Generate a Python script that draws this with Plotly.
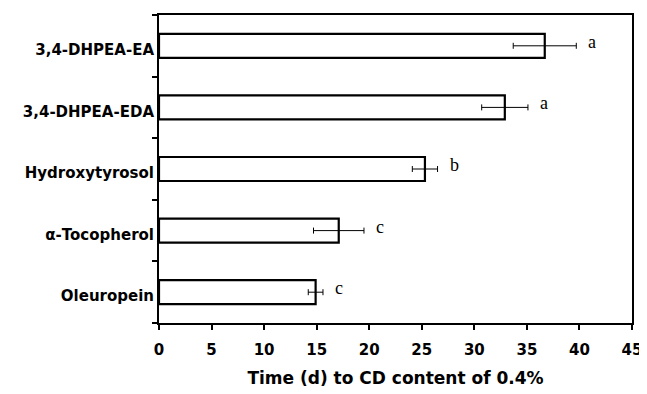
import plotly.graph_objects as go

categories = ["3,4-DHPEA-EA", "3,4-DHPEA-EDA", "Hydroxytyrosol", "α-Tocopherol", "Oleuropein"]
values = [36.7, 32.9, 25.3, 17.1, 14.9]
errors = [3.0, 2.2, 1.2, 2.4, 0.7]
letters = ["a", "a", "b", "c", "c"]
x_ticks = [0, 5, 10, 15, 20, 25, 30, 35, 40, 45]

fig = go.Figure()
fig.add_trace(go.Bar(
    y=categories, x=values, orientation="h",
    marker=dict(color="white", line=dict(color="black", width=2.2)),
    width=0.39,
    error_x=dict(type="data", array=errors, visible=True, color="black", thickness=1, width=3),
))

for c, v, e, l in zip(categories, values, errors, letters):
    fig.add_annotation(x=v + e, y=c, text=l, showarrow=False, xanchor="left",
                       xshift=10, yshift=4,
                       font=dict(family="Liberation Serif", size=18, color="black"))

# page body has an 8px default margin, so the figure is sized/offset to compensate
fig.update_layout(
    width=639, height=386,
    margin=dict(l=151, r=15, t=7, b=71),
    plot_bgcolor="white", paper_bgcolor="white",
    showlegend=False,
)
fig.update_xaxes(
    range=[0, 45], tickvals=x_ticks, ticks="outside", ticklen=5, tickwidth=1.5,
    tickcolor="black", showline=True, linecolor="black", linewidth=2, mirror=True,
    showgrid=False, zeroline=False, automargin=False, ticklabelstandoff=7,
    tickfont=dict(family="DejaVu Sans", size=15, color="black", weight="bold"),
    title=dict(text="Time (d) to CD content of 0.4%", standoff=14,
               font=dict(family="DejaVu Sans", size=17, color="black", weight="bold")),
)
fig.update_yaxes(
    categoryorder="array", categoryarray=categories[::-1],
    ticks="outside", ticklen=5, tickwidth=1.5, tickcolor="black", tickson="boundaries",
    showline=True, linecolor="black", linewidth=2, mirror=True, showgrid=False,
    automargin=False, ticklabelshift=4,
    tickfont=dict(family="DejaVu Sans", size=15, color="black", weight="bold"),
)

fig.write_html("out.html")
